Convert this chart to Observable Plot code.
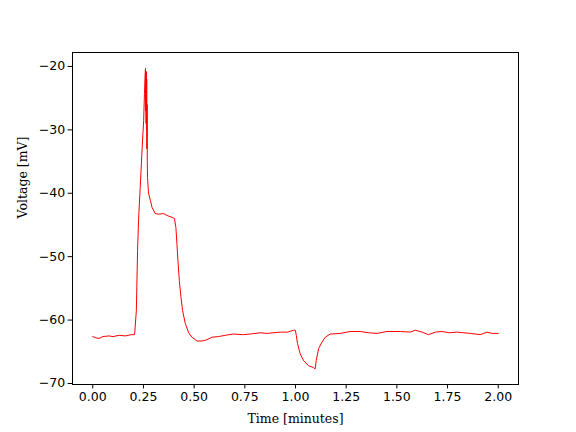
<!DOCTYPE html>
<html>
<head>
<meta charset="utf-8">
<script src="https://cdn.jsdelivr.net/npm/d3@7"></script>
<script src="https://cdn.jsdelivr.net/npm/@observablehq/plot@0.6"></script>
<style>
  html, body { margin: 0; padding: 0; background: white; }
</style>
</head>
<body>
<div id="chart"></div>
<script>
const times = [
  0.000, 0.015, 0.030, 0.050, 0.080, 0.100, 0.130, 0.160, 0.190, 0.205,
  0.207, 0.215, 0.221, 0.226, 0.234, 0.243, 0.251, 0.255, 0.258,
  0.260, 0.261, 0.262, 0.263, 0.264, 0.265, 0.266, 0.267, 0.268, 0.269,
  0.270, 0.275, 0.284, 0.292, 0.308, 0.325, 0.349, 0.366, 0.391, 0.403,
  0.410, 0.415, 0.420, 0.427, 0.435, 0.443, 0.456, 0.473, 0.489, 0.514,
  0.539, 0.563, 0.588, 0.620, 0.654, 0.694, 0.740, 0.777, 0.826, 0.859,
  0.925, 0.960, 0.990, 0.999, 1.004, 1.010, 1.023, 1.040, 1.064, 1.089,
  1.097, 1.102, 1.114, 1.130, 1.147, 1.171, 1.221, 1.270, 1.319, 1.360,
  1.402, 1.451, 1.517, 1.566, 1.591, 1.625, 1.656, 1.690, 1.722, 1.760,
  1.796, 1.830, 1.862, 1.911, 1.944, 1.970, 2.000
];
const volts = [
  -62.6, -62.8, -62.9, -62.6, -62.5, -62.6, -62.4, -62.5, -62.3, -62.3,
  -62.0, -58.5, -49.0, -44.1, -39.1, -33.2, -28.5, -24.3, -21.5,
  -20.3, -27.0, -21.0, -29.0, -20.8, -30.0, -22.0, -33.0, -26.0, -35.0,
  -37.5, -40.0, -41.1, -42.2, -43.2, -43.3, -43.2, -43.5, -43.8, -44.0,
  -45.4, -47.9, -50.6, -53.8, -56.4, -58.5, -60.5, -62.0, -62.7, -63.3,
  -63.3, -63.1, -62.7, -62.6, -62.4, -62.2, -62.3, -62.2, -62.0, -62.1,
  -61.9, -61.9, -61.6, -61.6, -62.4, -63.7, -65.3, -66.4, -67.2, -67.5,
  -67.7, -66.4, -64.5, -63.5, -62.7, -62.2, -62.1, -61.8, -61.8, -62.0,
  -62.1, -61.8, -61.8, -61.9, -61.6, -61.9, -62.3, -61.9, -61.8, -62.0,
  -61.9, -62.0, -62.1, -62.3, -61.9, -62.1, -62.1
];
const xTicks = [0, 0.25, 0.5, 0.75, 1.0, 1.25, 1.5, 1.75, 2.0];
const yTicks = [-70, -60, -50, -40, -30, -20];
const xLabel = "Time [minutes]";
const yLabel = "Voltage [mV]";

const data = times.map((t, i) => ({t, v: volts[i]}));

const chart = Plot.plot({
  width: 576,
  height: 432,
  marginLeft: 72,
  marginRight: 58,
  marginTop: 52,
  marginBottom: 48,
  style: {fontFamily: "DejaVu Sans", fontSize: "12.5px", background: "white", color: "black"},
  x: {domain: [-0.1, 2.1]},
  y: {domain: [-70.16, -17.8]},
  marks: [
    Plot.line(data, {x: "t", y: "v", stroke: "red", strokeWidth: 1}),
    Plot.frame({stroke: "black", strokeWidth: 1}),
    Plot.axisX({ticks: xTicks, tickFormat: d3.format(".2f"), tickSize: 4.4, tickPadding: 3, fontSize: 12.5, label: null}),
    Plot.axisY({ticks: yTicks, tickFormat: d3.format("d"), tickSize: 4.4, tickPadding: 3, fontSize: 12.5, label: null}),
    Plot.text([xLabel], {text: d => d, frameAnchor: "bottom", dy: 34, fontFamily: "DejaVu Serif", fontSize: 12.5, lineAnchor: "middle"}),
    Plot.text([yLabel], {text: d => d, frameAnchor: "left", dx: -50, rotate: -90, fontFamily: "DejaVu Serif", fontSize: 12.5, lineAnchor: "middle"})
  ]
});
document.getElementById("chart").appendChild(chart);
</script>
</body>
</html>
